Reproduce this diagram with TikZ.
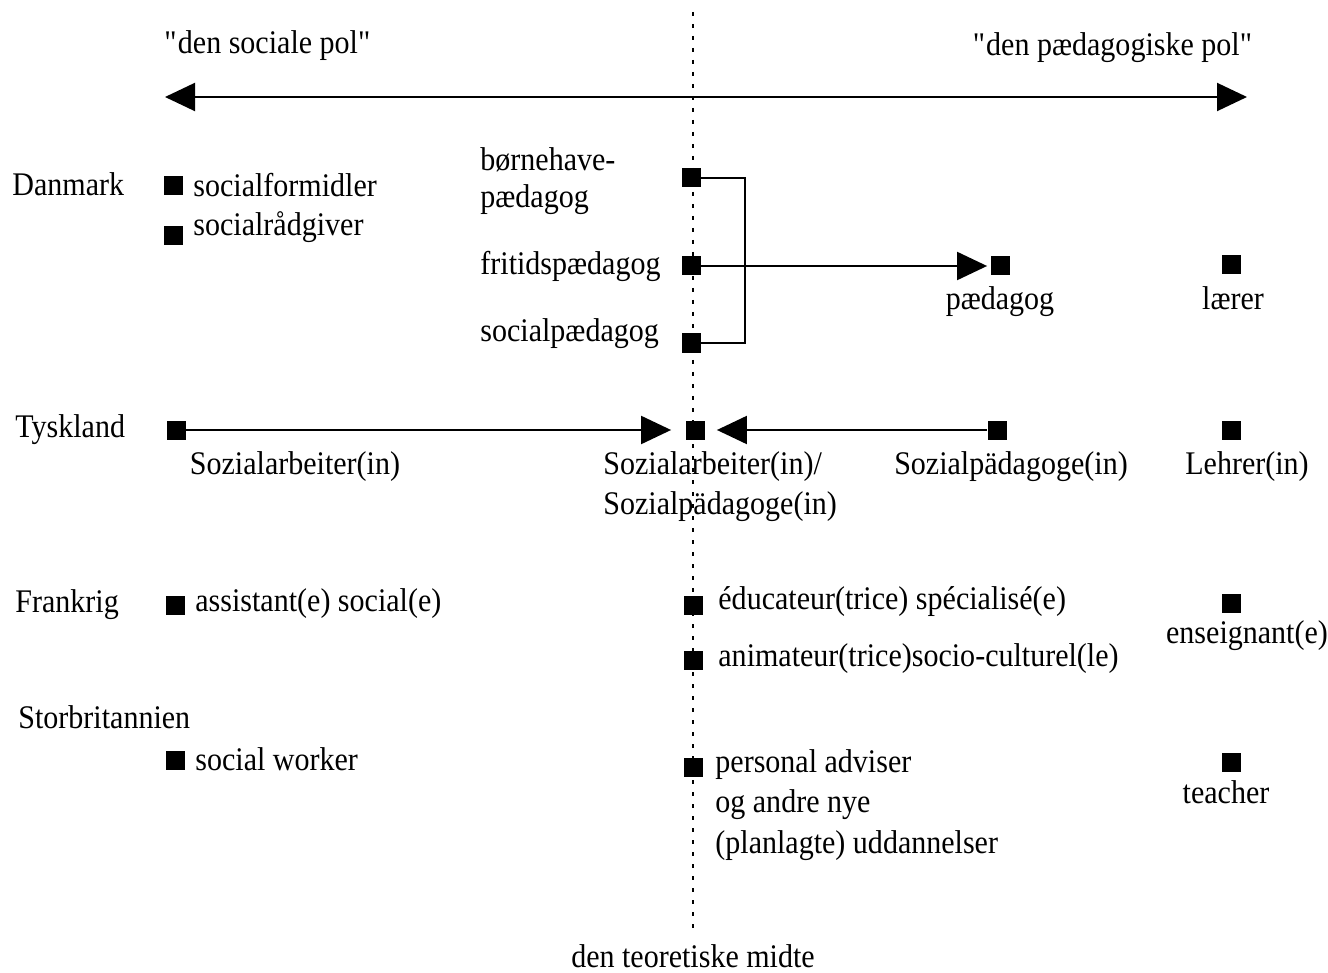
\documentclass[tikz,border=0pt]{standalone}
\usepackage{fontspec}
\setmainfont{Liberation Serif}[FakeStretch=0.91]
\usetikzlibrary{arrows.meta}
\begin{document}
\begin{tikzpicture}[x=0.5pt,y=-0.5pt,
  every node/.style={font=\fontsize{16.5}{20}\selectfont, inner sep=0pt},
  sq/.style={fill=black, draw=none, minimum size=9.5pt, inner sep=0pt},
  lbl/.style={anchor=west},
  conn/.style={line width=1pt},
  arr/.style={line width=1pt, -{Triangle[length=15pt,width=14pt]}},
  midline/.style={line width=0.9pt, dash pattern=on 2pt off 4pt}]
\useasboundingbox (0,0) rectangle (1328,973);
% middle dotted line
\coordinate (mtop) at (693,12);
\coordinate (mbot) at (693,932);
\draw[midline] (mtop) -- (mbot);
\node (midte) at (693,956) {den teoretiske midte};
% top axis
\node (psoc) at (268,46) {\textquotedbl den sociale pol\textquotedbl};
\node (pped) at (1113,48) {\textquotedbl den pædagogiske pol\textquotedbl};
\coordinate (axl) at (165,97);
\coordinate (axr) at (1247,97);
\draw[line width=1pt, {Triangle[length=15pt,width=14pt]}-{Triangle[length=15pt,width=14pt]}] (axl) -- (axr);
% Danmark
\node[lbl] (dk) at (12,184) {Danmark};
\node[sq] (dk1) at (173,186) {};
\node[lbl] (dk1t) at (193,185) {socialformidler};
\node[sq] (dk2) at (173,236) {};
\node[lbl] (dk2t) at (193,227) {socialrådgiver};
\node[sq] (bh) at (691,178) {};
\node[lbl] (bht) at (480,160) {børnehave-};
\node[lbl] (bht2) at (480,200) {pædagog};
\node[sq] (fp) at (691,266) {};
\node[lbl] (fpt) at (480,266) {fritidspædagog};
\node[sq] (sp) at (691,343) {};
\node[lbl] (spt) at (480,334) {socialpædagog};
\coordinate (brtop) at (745,178);
\coordinate (brbot) at (745,343);
\draw[conn] (bh.east) -- (brtop) -- (brbot) -- (sp.east);
\node[sq] (pd) at (1000,266) {};
\node (pdt) at (1000,302) {pædagog};
\draw[arr, shorten >=1.5pt] (fp.east) -- (pd.west);
\node[sq] (lr) at (1231,265) {};
\node (lrt) at (1233,298) {lærer};
% Tyskland
\node[lbl] (de) at (15,430) {Tyskland};
\node[sq] (de1) at (176,430) {};
\node (de1t) at (295,467) {Sozialarbeiter(in)};
\node[sq] (de2) at (695,430) {};
\node[lbl] (de2t) at (603,467) {Sozialarbeiter(in)/};
\node[lbl] (de2t2) at (603,507) {Sozialpädagoge(in)};
\node[sq] (de3) at (997,430) {};
\node (de3t) at (1011,467) {Sozialpädagoge(in)};
\node[sq] (de4) at (1231,430) {};
\node (de4t) at (1247,467) {Lehrer(in)};
\draw[arr, shorten >=7pt] (de1.east) -- (de2.west);
\draw[arr, shorten >=6pt] (de3.west) -- (de2.east);
% Frankrig
\node[lbl] (fr) at (15,605) {Frankrig};
\node[sq] (fr1) at (175,605) {};
\node[lbl] (fr1t) at (195,604) {assistant(e) social(e)};
\node[sq] (fr2) at (693,605) {};
\node[lbl] (fr2t) at (718,602) {éducateur(trice) spécialisé(e)};
\node[sq] (fr3) at (693,660) {};
\node[lbl] (fr3t) at (718,659) {animateur(trice)socio-culturel(le)};
\node[sq] (fr4) at (1231,603) {};
\node (fr4t) at (1247,636) {enseignant(e)};
% Storbritannien
\node[lbl] (gb) at (18,717) {Storbritannien};
\node[sq] (gb1) at (175,760) {};
\node[lbl] (gb1t) at (195,759) {social worker};
\node[sq] (gb2) at (693,767) {};
\node[lbl] (gb2t) at (715,765) {personal adviser};
\node[lbl] (gb2t2) at (715,805) {og andre nye};
\node[lbl] (gb2t3) at (715,846) {(planlagte) uddannelser};
\node[sq] (gb3) at (1231,762) {};
\node (gb3t) at (1226,792) {teacher};
\end{tikzpicture}
\end{document}
